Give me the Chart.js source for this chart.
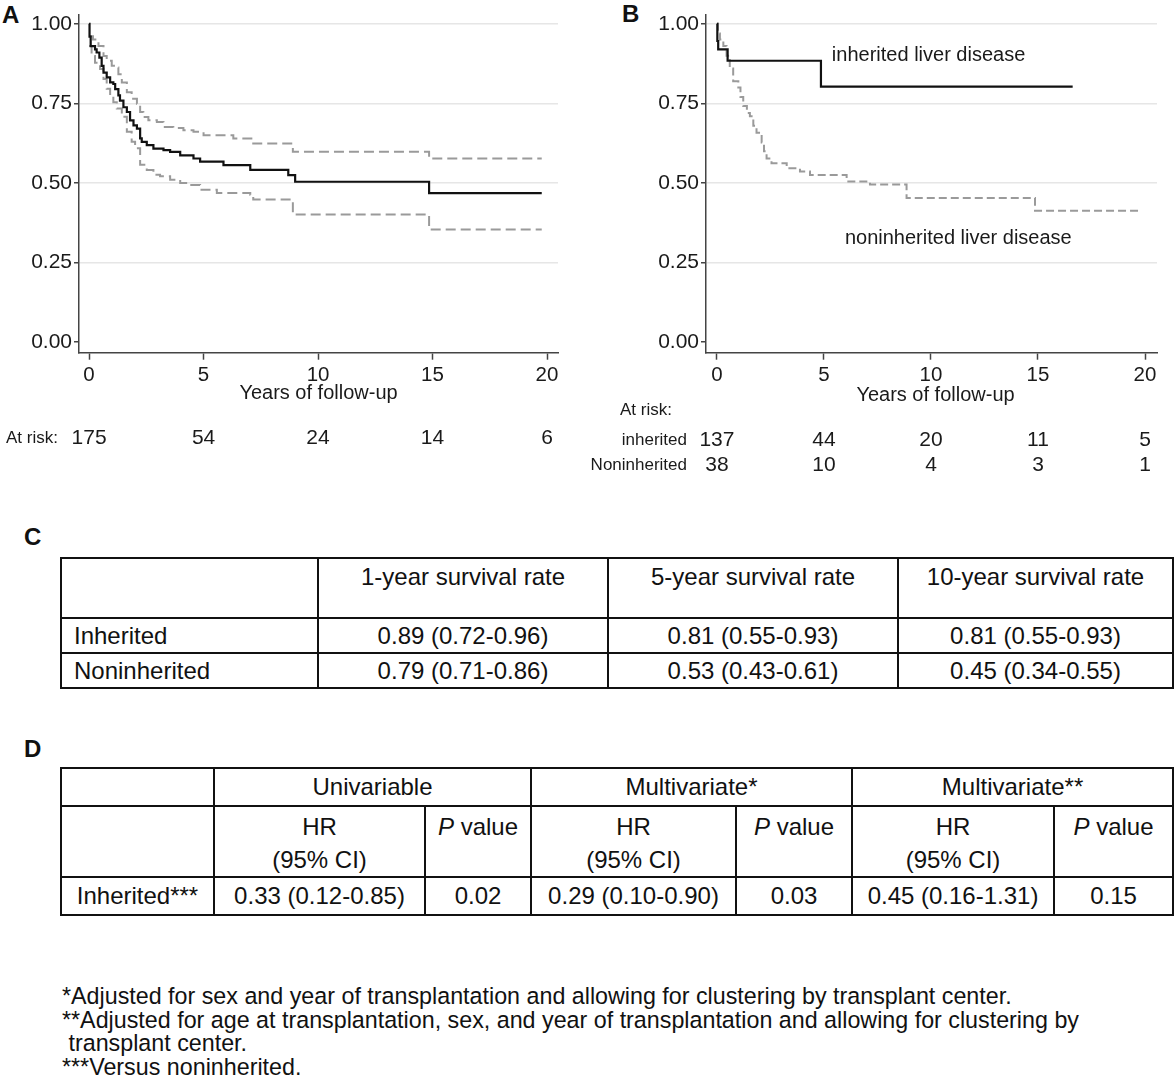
<!DOCTYPE html>
<html>
<head>
<meta charset="utf-8">
<script src="https://cdn.jsdelivr.net/npm/chart.js@4.4.0/dist/chart.umd.min.js"></script>
<style>
  body { margin: 0; background: #fff; font-family: "Liberation Sans", Arial, sans-serif; color: #111; }
  #page { position: relative; width: 1174px; height: 1075px; overflow: hidden; }
  .panel { position: absolute; }
  .letter { position: absolute; font-weight: bold; font-size: 24px; line-height: 24px; }
  table { position: absolute; border-collapse: collapse; table-layout: fixed; font-size: 24px; }
  td { border: 2px solid #111; padding: 0; line-height: 28px; }
  #tabC { left: 60px; top: 557px; width: 1112px; }
  #tabC td { text-align: center; vertical-align: middle; height: 33px; }
  #tabC tr.head td { vertical-align: top; height: 54px; padding-top: 4px; }
  #tabC td.lab { text-align: left; padding-left: 12px; }
  #tabD { left: 60px; top: 767px; width: 1112px; }
  #tabD td { text-align: center; vertical-align: middle; height: 36px; }
  #tabD tr.sub td { vertical-align: top; height: 66px; padding-top: 3px; line-height: 33px; }
  #notes { position: absolute; left: 62px; top: 984px; font-size: 24.5px; line-height: 23.5px; white-space: nowrap;
           transform: scaleX(0.95); transform-origin: 0 0; }
</style>
</head>
<body>
<div id="page">
  <div class="letter" style="left:2px;top:3px">A</div>
  <div class="letter" style="left:622px;top:2px">B</div>
  <div class="panel" style="left:0;top:0"><canvas id="chartA" width="590" height="480"></canvas></div>
  <div class="panel" style="left:590px;top:0"><canvas id="chartB" width="584" height="480"></canvas></div>
  <div class="letter" style="left:24px;top:525px">C</div>
  <table id="tabC"></table>
  <div class="letter" style="left:24px;top:737px">D</div>
  <table id="tabD"></table>
  <div id="notes"></div>
</div>
<script>
// axes
const xTicks = [0, 5, 10, 15, 20];
const yTicks = [0, 0.25, 0.5, 0.75, 1];

// panel A: overall survival with 95% CI
const timesA = [0, 0.02, 0.07, 0.26, 0.33, 0.45, 0.55, 0.63, 0.77, 0.92, 1.06, 1.14, 1.28, 1.35, 1.5, 1.65, 1.79, 1.94, 2.09, 2.23, 2.3, 2.52, 2.81, 3.25, 3.54, 3.98, 4.56, 4.85, 5.87, 7.04, 8.7, 9.0, 14.85, 19.77];
const survA = [1.0, 0.96, 0.93, 0.92, 0.91, 0.894, 0.868, 0.847, 0.832, 0.816, 0.811, 0.795, 0.775, 0.759, 0.738, 0.723, 0.697, 0.681, 0.671, 0.64, 0.629, 0.619, 0.608, 0.603, 0.598, 0.587, 0.577, 0.567, 0.556, 0.541, 0.525, 0.504, 0.468, 0.468];
const timesAUpper = [0.02, 0.17, 0.41, 0.63, 0.77, 0.99, 1.14, 1.28, 1.43, 1.65, 1.86, 2.09, 2.23, 2.37, 2.59, 2.96, 3.25, 3.68, 4.12, 4.56, 5.0, 6.3, 7.17, 8.9, 14.85, 19.77];
const upperA = [0.961, 0.951, 0.93, 0.899, 0.884, 0.868, 0.863, 0.842, 0.816, 0.785, 0.765, 0.749, 0.723, 0.707, 0.697, 0.692, 0.676, 0.673, 0.666, 0.661, 0.65, 0.64, 0.624, 0.598, 0.577, 0.577];
const timesALower = [0, 0.11, 0.26, 0.48, 0.63, 0.77, 0.92, 1.06, 1.21, 1.43, 1.65, 1.86, 2.01, 2.23, 2.52, 2.81, 3.1, 3.54, 3.98, 4.41, 4.85, 5.58, 7.04, 7.17, 8.9, 14.85, 19.77];
const lowerA = [0.93, 0.899, 0.878, 0.858, 0.827, 0.796, 0.775, 0.754, 0.734, 0.708, 0.661, 0.63, 0.609, 0.557, 0.541, 0.526, 0.521, 0.51, 0.5, 0.494, 0.479, 0.469, 0.463, 0.448, 0.401, 0.354, 0.354];
const riskAll = [175, 54, 24, 14, 6];

// panel B: by disease group
const timesInh = [0, 0.02, 0.06, 0.5, 4.86, 16.62];
const survInh = [1.0, 0.946, 0.92, 0.884, 0.803, 0.803];
const timesNon = [0, 0.05, 0.14, 0.3, 0.45, 0.6, 0.76, 1.0, 1.1, 1.23, 1.4, 1.54, 1.7, 1.85, 2.09, 2.2, 2.32, 2.45, 2.55, 3.26, 3.88, 4.35, 6.06, 7.15, 8.86, 14.86, 19.77];
const survNon = [1.0, 0.97, 0.951, 0.93, 0.9, 0.86, 0.82, 0.8, 0.77, 0.742, 0.72, 0.71, 0.68, 0.658, 0.627, 0.6, 0.577, 0.57, 0.562, 0.546, 0.536, 0.525, 0.505, 0.495, 0.453, 0.413, 0.413];
const riskInh = [137, 44, 20, 11, 5];
const riskNon = [38, 10, 4, 3, 1];

// tables
const tabCHead = ['', '1-year survival rate', '5-year survival rate', '10-year survival rate'];
const tabCRows = [
  ['Inherited', '0.89 (0.72-0.96)', '0.81 (0.55-0.93)', '0.81 (0.55-0.93)'],
  ['Noninherited', '0.79 (0.71-0.86)', '0.53 (0.43-0.61)', '0.45 (0.34-0.55)']
];
const tabDModels = ['Univariable', 'Multivariate*', 'Multivariate**'];
const tabDRow = ['Inherited***', '0.33 (0.12-0.85)', '0.02', '0.29 (0.10-0.90)', '0.03', '0.45 (0.16-1.31)', '0.15'];
const notes = [
  '*Adjusted for sex and year of transplantation and allowing for clustering by transplant center.',
  '**Adjusted for age at transplantation, sex, and year of transplantation and allowing for clustering by',
  '&nbsp;transplant center.',
  '***Versus noninherited.'
];

const FONT = '"Liberation Sans", Arial, sans-serif';
const INK = '#1a1a1a';
const GRAY = '#9a9a9a';

function pts(ts, vs) { return ts.map((t, i) => ({ x: t, y: vs[i] })); }

const riskPlugin = {
  id: 'risk',
  afterDraw(chart, args, o) {
    const ctx = chart.ctx, xs = chart.scales.x, ys = chart.scales.y, ca = chart.chartArea;
    ctx.save();
    ctx.fillStyle = INK;
    ctx.textBaseline = 'middle';
    ctx.font = '20px ' + FONT;
    ctx.textAlign = 'center';
    ctx.fillText('Years of follow-up', (ca.left + ca.right) / 2 + o.titleShift, o.titleY);
    o.rows.forEach(r => {
      ctx.font = '17px ' + FONT;
      ctx.textAlign = r.align;
      ctx.fillText(r.label, r.labelX, r.y);
      ctx.font = '21px ' + FONT;
      ctx.textAlign = 'center';
      r.values.forEach((v, i) => ctx.fillText(String(v), xs.getPixelForValue(xTicks[i]), r.y));
    });
    ctx.font = '20px ' + FONT;
    ctx.textAlign = 'left';
    o.notes.forEach(n => ctx.fillText(n.text, xs.getPixelForValue(n.x), ys.getPixelForValue(n.y)));
    ctx.restore();
  }
};

function makeChart(id, datasets, cfg) {
  return new Chart(document.getElementById(id), {
    type: 'line',
    data: { datasets },
    options: {
      responsive: false,
      animation: false,
      events: [],
      layout: { padding: { top: 11.7, right: cfg.padRight, left: 0, bottom: 0 } },
      elements: { point: { radius: 0 }, line: { tension: 0 } },
      plugins: { legend: { display: false }, tooltip: { enabled: false }, risk: cfg.risk },
      scales: {
        x: {
          type: 'linear', min: cfg.xMin, max: cfg.xMax,
          afterBuildTicks: s => { s.ticks = xTicks.map(v => ({ value: v })); },
          afterFit: s => { s.height = 127.3; },
          border: { display: true, color: '#444', width: 1.5 },
          grid: { drawOnChartArea: false, tickColor: '#444', tickLength: 7, tickWidth: 1.5 },
          ticks: { color: INK, font: { family: FONT, size: 20.5 }, padding: 3, maxRotation: 0 }
        },
        y: {
          min: -0.033, max: 1.029,
          afterBuildTicks: s => { s.ticks = yTicks.map(v => ({ value: v })); },
          afterFit: s => { s.width = cfg.yWidth; },
          border: { display: true, color: '#444', width: 1.5 },
          grid: { color: c => (c.tick && c.tick.value === 0 ? 'rgba(0,0,0,0)' : '#e6e6e6'), lineWidth: 1.5, tickColor: '#444', tickLength: 5, tickWidth: 1.5 },
          ticks: { color: INK, font: { family: FONT, size: 21 }, padding: 2, callback: v => v.toFixed(2) }
        }
      }
    },
    plugins: [riskPlugin]
  });
}

makeChart('chartA', [
  { data: pts(timesA, survA), stepped: true, borderColor: '#111', borderWidth: 2.2 },
  { data: pts(timesAUpper, upperA), stepped: true, borderColor: GRAY, borderWidth: 2, borderDash: [10, 5] },
  { data: pts(timesALower, lowerA), stepped: true, borderColor: GRAY, borderWidth: 2, borderDash: [10, 5] }
], {
  xMin: -0.44, xMax: 20.48, yWidth: 79, padRight: 32,
  risk: { titleY: 393, titleShift: 0, notes: [],
    rows: [{ label: 'At risk:', labelX: 6, align: 'left', y: 438, values: riskAll }] }
});

makeChart('chartB', [
  { data: pts(timesInh, survInh), stepped: true, borderColor: '#111', borderWidth: 2.2 },
  { data: pts(timesNon, survNon), stepped: true, borderColor: GRAY, borderWidth: 2, borderDash: [8, 4] }
], {
  xMin: -0.51, xMax: 20.56, yWidth: 116, padRight: 17,
  risk: { titleY: 395, titleShift: 4,
    notes: [{ text: 'inherited liver disease', x: 5.37, y: 0.9 }, { text: 'noninherited liver disease', x: 5.98, y: 0.327 }],
    rows: [
      { label: 'At risk:', labelX: 30, align: 'left', y: 410, values: [] },
      { label: 'inherited', labelX: 97, align: 'right', y: 440, values: riskInh },
      { label: 'Noninherited', labelX: 97, align: 'right', y: 465, values: riskNon }
    ] }
});

// table C
const colsC = [257, 290, 290, 275];
let h = '<colgroup>' + colsC.map(w => '<col style="width:' + w + 'px">').join('') + '</colgroup>';
h += '<tr class="head">' + tabCHead.map(t => '<td>' + t + '</td>').join('') + '</tr>';
tabCRows.forEach(r => {
  h += '<tr>' + r.map((t, i) => '<td' + (i === 0 ? ' class="lab"' : '') + '>' + t + '</td>').join('') + '</tr>';
});
document.getElementById('tabC').innerHTML = h;

// table D
const colsD = [153, 211, 106, 205, 116, 202, 119];
let d = '<colgroup>' + colsD.map(w => '<col style="width:' + w + 'px">').join('') + '</colgroup>';
d += '<tr><td></td>' + tabDModels.map(m => '<td colspan="2">' + m + '</td>').join('') + '</tr>';
d += '<tr class="sub"><td></td>' + tabDModels.map(() => '<td>HR<br>(95% CI)</td><td><i>P</i> value</td>').join('') + '</tr>';
d += '<tr>' + tabDRow.map(t => '<td>' + t + '</td>').join('') + '</tr>';
document.getElementById('tabD').innerHTML = d;

document.getElementById('notes').innerHTML = notes.join('<br>');
</script>
</body>
</html>
